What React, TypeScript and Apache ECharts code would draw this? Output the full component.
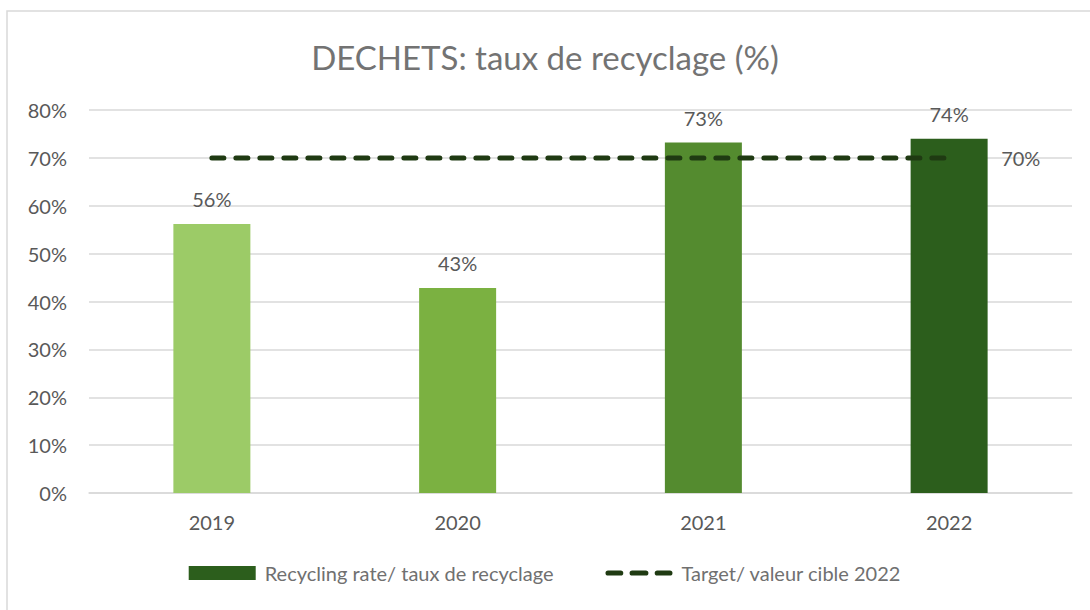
import React, { useEffect, useRef } from "react";
import * as echarts from "echarts";

const categories = ["2019", "2020", "2021", "2022"];
const recyclingRate = [56.2, 42.8, 73.2, 74.0];
const barColors = ["#9ccb67", "#7bb141", "#548b2f", "#2c5e1c"];
const target = [70, 70, 70, 70];
const yTicks = [0, 80, 10];

const dashIcon =
  "path://M2.5,0H14.5A2.5,2.5,0,0,1,14.5,5H2.5A2.5,2.5,0,0,1,2.5,0Z M25.5,0H38.5A2.5,2.5,0,0,1,38.5,5H25.5A2.5,2.5,0,0,1,25.5,0Z M49.5,0H61.5A2.5,2.5,0,0,1,61.5,5H49.5A2.5,2.5,0,0,1,49.5,0Z";

export default function App() {
  const ref = useRef<HTMLDivElement>(null);
  useEffect(() => {
    if (!ref.current) return;
    const chart = echarts.init(ref.current, null, { renderer: "svg" });
    const font = "Lato, 'Open Sans', sans-serif";
    chart.setOption({
      animation: false,
      backgroundColor: "#ffffff",
      textStyle: { fontFamily: font },
      graphic: [
        {
          type: "rect",
          shape: { x: 7, y: 11, width: 1090, height: 610 },
          style: { fill: "none", stroke: "#d9d9d9", lineWidth: 1.5 },
          silent: true,
          z: -1,
        },
      ],
      title: {
        text: "DECHETS: taux de recyclage (%)",
        left: "center",
        top: 35,
        textStyle: { fontFamily: font, fontSize: 33, fontWeight: "normal", color: "#737373" },
      },
      grid: { left: 89, right: 18, top: 110, bottom: 117, containLabel: false },
      legend: {
        bottom: 22,
        left: "center",
        itemGap: 52,
        itemWidth: 67,
        itemHeight: 14,
        textStyle: { fontFamily: font, fontSize: 20, color: "#707070", padding: [0, 0, 0, 4] },
        data: [
          { name: "Recycling rate/ taux de recyclage", icon: "rect" },
          { name: "Target/ valeur cible 2022", icon: dashIcon },
        ],
      },
      xAxis: {
        type: "category",
        data: categories,
        axisLine: { lineStyle: { color: "#d9d9d9", width: 1.5 } },
        axisTick: { show: false },
        axisLabel: { fontSize: 20, color: "#595959", margin: 19, fontFamily: font },
      },
      yAxis: {
        type: "value",
        min: yTicks[0],
        max: yTicks[1],
        interval: yTicks[2],
        axisLine: { show: false },
        axisTick: { show: false },
        splitLine: { lineStyle: { color: "#d9d9d9", width: 1.5 } },
        axisLabel: { formatter: "{value}%", fontSize: 20, color: "#595959", margin: 22, fontFamily: font },
      },
      series: [
        {
          name: "Recycling rate/ taux de recyclage",
          type: "bar",
          barWidth: 77,
          itemStyle: { color: barColors[3] },
          data: recyclingRate.map((v, i) => ({ value: v, itemStyle: { color: barColors[i] } })),
          label: {
            show: true,
            position: "top",
            distance: 15,
            fontSize: 20,
            color: "#595959",
            fontFamily: font,
            formatter: (p: any) => Math.round(p.value) + "%",
          },
          z: 1,
        },
        {
          name: "Target/ valeur cible 2022",
          type: "line",
          data: target,
          symbol: "none",
          lineStyle: { color: "#1f3a12", width: 5, type: [12, 12], cap: "round" },
          itemStyle: { color: "#1f3a12" },
          endLabel: {
            show: true,
            formatter: (p: any) => p.value + "%",
            fontSize: 20,
            color: "#595959",
            fontFamily: font,
            distance: 52,
          },
          z: 3,
        },
      ],
    });
    return () => chart.dispose();
  }, []);
  return (
    <div
      ref={ref}
      style={{ position: "absolute", left: 0, top: 0, width: 1090, height: 610 }}
    />
  );
}
